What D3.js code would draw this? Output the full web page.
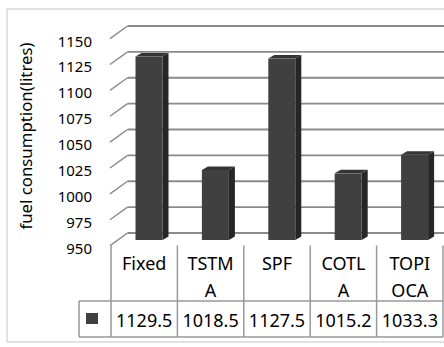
<!DOCTYPE html>
<html><head><meta charset="utf-8">
<script src="https://cdn.jsdelivr.net/npm/d3@7"></script>
<style>html,body{margin:0;padding:0;background:#fff;}svg{display:block;}</style>
</head><body>
<svg id="c" width="444" height="347"></svg>
<script>
const categories = ["Fixed","TSTMA","SPF","COTLA","TOPIOCA"];
const categoryLines = [["Fixed"],["TSTM","A"],["SPF"],["COTL","A"],["TOPI","OCA"]];
const values = [1129.5,1018.5,1127.5,1015.2,1033.3];
const valueLabels = ["1129.5","1018.5","1127.5","1015.2","1033.3"];
const ticks = [950,975,1000,1025,1050,1075,1100,1125,1150];
const yTitle = "fuel consumption(litres)";

const svg = d3.select("#c");
const font = "'Noto Sans', 'Open Sans', sans-serif";

// outer frame
svg.append("rect").attr("x",7).attr("y",9).attr("width",460).attr("height",333)
  .attr("fill","none").attr("stroke","#d9d9d9").attr("stroke-width",1.5);

const depthX = 17.5, depthY = -12.6;
const yBack = d3.scaleLinear().domain([950,1150]).range([233,26]);
const yFront = v => yBack(v) - depthY;
const x = d3.scaleBand().domain(categories).range([111,443]).paddingInner(0).paddingOuter(0);
const bw = x.bandwidth();
const yBar = d3.scaleLinear().domain([950,1150]).range([240,35.6]);

// gridlines on back wall + side wall diagonals
const g = svg.append("g");
ticks.forEach(t=>{
  g.append("line").attr("x1",110+depthX).attr("x2",470).attr("y1",yBack(t)).attr("y2",yBack(t))
    .attr("stroke","#8a8a8a").attr("stroke-width",1.8);
  g.append("line").attr("x1",110).attr("y1",yFront(t)).attr("x2",110+depthX).attr("y2",yBack(t))
    .attr("stroke","#8a8a8a").attr("stroke-width",1.4);
});

// tick labels
svg.append("g").selectAll("text").data(ticks).join("text")
  .attr("x",92).attr("y",d=>yFront(d)+2).attr("text-anchor","end").attr("dominant-baseline","central")
  .attr("font-family",font).attr("font-size",15).attr("fill","#000").text(d=>d);

// y title
svg.append("text").attr("transform","translate(25,136) rotate(-90)")
  .attr("text-anchor","middle").attr("dominant-baseline","central")
  .attr("font-family",font).attr("font-size",16.8).attr("fill","#000").text(yTitle);

// bars
const barW = 27, bdx = 6, bdy = -3.5, barOff = 24.5;
const bars = svg.append("g");
categories.forEach((c,i)=>{
  const x0 = x(c) + barOff, x1 = x0 + barW;
  const yt = yBar(values[i]), yb = yBar(950);
  bars.append("polygon").attr("points",[[x1,yt],[x1+bdx,yt+bdy],[x1+bdx,yb+bdy],[x1,yb]].join(" "))
    .attr("fill","#262626");
  bars.append("polygon").attr("points",[[x0,yt],[x0+bdx,yt+bdy],[x1+bdx,yt+bdy],[x1,yt]].join(" "))
    .attr("fill","#353535");
  bars.append("rect").attr("x",x0).attr("y",yt).attr("width",barW).attr("height",yb-yt)
    .attr("fill","#404040");
});

// data table
const tb = svg.append("g").attr("stroke","#999").attr("stroke-width",1.5).attr("fill","none");
const yTop = 245.5, yMid = 301, yBot = 337;
d3.range(categories.length+1).forEach(i=>{
  const xx = 111 + i*bw;
  tb.append("line").attr("x1",xx).attr("x2",xx).attr("y1",yTop).attr("y2",yBot);
});
tb.append("line").attr("x1",79).attr("x2",443).attr("y1",yMid).attr("y2",yMid);
tb.append("line").attr("x1",79).attr("x2",443).attr("y1",yBot).attr("y2",yBot);
tb.append("line").attr("x1",79).attr("x2",79).attr("y1",yMid).attr("y2",yBot);

// legend key
svg.append("rect").attr("x",86).attr("y",313).attr("width",12).attr("height",11).attr("fill","#404040");

// category labels
categories.forEach((c,i)=>{
  const cx = x(c) + bw/2;
  categoryLines[i].forEach((ln,j)=>{
    svg.append("text").attr("x",cx).attr("y",270+j*27).attr("text-anchor","middle")
      .attr("font-family",font).attr("font-size",18).attr("fill","#000").text(ln);
  });
  svg.append("text").attr("x",cx).attr("y",327).attr("text-anchor","middle")
    .attr("font-family",font).attr("font-size",18).attr("fill","#000").text(valueLabels[i]);
});
</script>
</body></html>
